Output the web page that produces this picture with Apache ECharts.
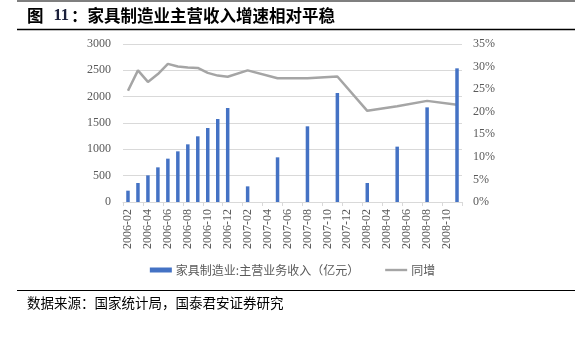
<!DOCTYPE html>
<html>
<head>
<meta charset="utf-8">
<script src="https://cdn.jsdelivr.net/npm/echarts@6/dist/echarts.min.js"></script>
<style>
  html, body { margin: 0; padding: 0; background: #fff; }
  #chart { width: 585px; height: 337px; }
</style>
</head>
<body>
<div id="chart"></div>
<script>
// Monthly periods, Feb 2006 – Nov 2008
const months = [
  '2006-02','2006-03','2006-04','2006-05','2006-06','2006-07','2006-08','2006-09','2006-10','2006-11','2006-12',
  '2007-01','2007-02','2007-03','2007-04','2007-05','2007-06','2007-07','2007-08','2007-09','2007-10','2007-11','2007-12',
  '2008-01','2008-02','2008-03','2008-04','2008-05','2008-06','2008-07','2008-08','2008-09','2008-10','2008-11'
];

// Furniture manufacturing: main business revenue (100 million yuan)
const revenue = [
  215, 361, 506, 658, 823, 962, 1095, 1247, 1405, 1576, 1785,
  null, 297, null, null, 848, null, null, 1437, null, null, 2070, null,
  null, 361, null, null, 1051, null, null, 1797, null, null, 2538
];

// Year-on-year growth (%)
const growth = [
  24.65, 29.15, 26.6, 28.35, 30.6, 30.0, 29.8, 29.7, 28.6, 28.0, 27.75,
  null, 29.15, null, null, 27.4, null, null, 27.4, null, null, 27.8, null,
  null, 20.2, null, null, 21.2, null, null, 22.4, null, null, 21.55
];

const leftTicks = { min: 0, max: 3000, step: 500 };
const rightTicks = { min: 0, max: 35, step: 5 };

const seriesNames = ['家具制造业:主营业务收入（亿元）', '同增'];
const titleText = ['图', '11', '：家具制造业主营收入增速相对平稳'];
const sourceText = '数据来源：国家统计局，国泰君安证券研究';

const axisFont = { fontFamily: 'Liberation Serif', fontSize: 12, color: '#595959' };

const chart = echarts.init(document.getElementById('chart'), null, { renderer: 'canvas' });

chart.setOption({
  animation: false,
  backgroundColor: '#ffffff',
  grid: { left: 123, right: 123, top: 44, bottom: 135, containLabel: false },
  graphic: [
    { type: 'line', shape: { x1: 17, y1: 1, x2: 575, y2: 1 }, style: { stroke: '#000', lineWidth: 1.2 } },
    { type: 'line', shape: { x1: 17, y1: 29.5, x2: 575, y2: 29.5 }, style: { stroke: '#000', lineWidth: 1.4 } },
    { type: 'line', shape: { x1: 17, y1: 290.5, x2: 575, y2: 290.5 }, style: { stroke: '#000', lineWidth: 1.2 } },
    {
      type: 'text', left: 27, top: 7,
      style: {
        text: '{a|' + titleText[0] + '}{n|' + titleText[1] + '}{a|' + titleText[2] + '}',
        rich: {
          a: { fontFamily: 'Noto Sans CJK SC', fontWeight: 'bold', fontSize: 16.5, fill: '#000' },
          n: { fontFamily: 'Liberation Serif', fontWeight: 'bold', fontSize: 16.5, fill: '#1a1f3a', padding: [0, 2, 0, 10] }
        }
      }
    },
    {
      type: 'text', left: 27, top: 296,
      style: { text: sourceText, fontFamily: 'Noto Sans CJK SC', fontSize: 13.5, fill: '#000' }
    }
  ],
  legend: {
    top: 264,
    left: 'center',
    padding: 0,
    itemGap: 26,
    itemWidth: 22,
    itemHeight: 5,
    textStyle: { fontFamily: 'Noto Sans CJK SC', fontSize: 12, color: '#595959', padding: [0, 0, 0, -1] },
    data: [
      { name: seriesNames[0], icon: 'rect' },
      { name: seriesNames[1], icon: 'path://M0,0 L24,0 L24,2.6 L0,2.6 Z' }
    ]
  },
  xAxis: {
    type: 'category',
    data: months,
    boundaryGap: true,
    axisLine: { lineStyle: { color: '#D9D9D9', width: 1 } },
    axisTick: { show: true, interval: 1, length: 4, lineStyle: { color: '#D9D9D9' } },
    axisLabel: { interval: 1, rotate: 90, margin: 7, ...axisFont }
  },
  yAxis: [
    {
      type: 'value',
      min: leftTicks.min, max: leftTicks.max, interval: leftTicks.step,
      axisLine: { show: false },
      axisTick: { show: false },
      axisLabel: { margin: 12, formatter: (v) => String(v), ...axisFont },
      splitLine: { show: true, lineStyle: { color: '#D9D9D9', width: 1 } }
    },
    {
      type: 'value',
      min: rightTicks.min, max: rightTicks.max, interval: rightTicks.step,
      position: 'right',
      axisLine: { show: false },
      axisTick: { show: false },
      axisLabel: { margin: 11, formatter: '{value}%', ...axisFont },
      splitLine: { show: false }
    }
  ],
  series: [
    {
      name: seriesNames[1],
      type: 'line',
      yAxisIndex: 1,
      data: growth,
      connectNulls: true,
      symbol: 'none',
      z: 2,
      lineStyle: { color: '#A5A5A5', width: 2.5 },
      itemStyle: { color: '#A5A5A5' }
    },
    {
      name: seriesNames[0],
      type: 'bar',
      yAxisIndex: 0,
      data: revenue,
      barWidth: 3.5,
      z: 3,
      itemStyle: { color: '#4472C4' }
    }
  ]
});
</script>
</body>
</html>
